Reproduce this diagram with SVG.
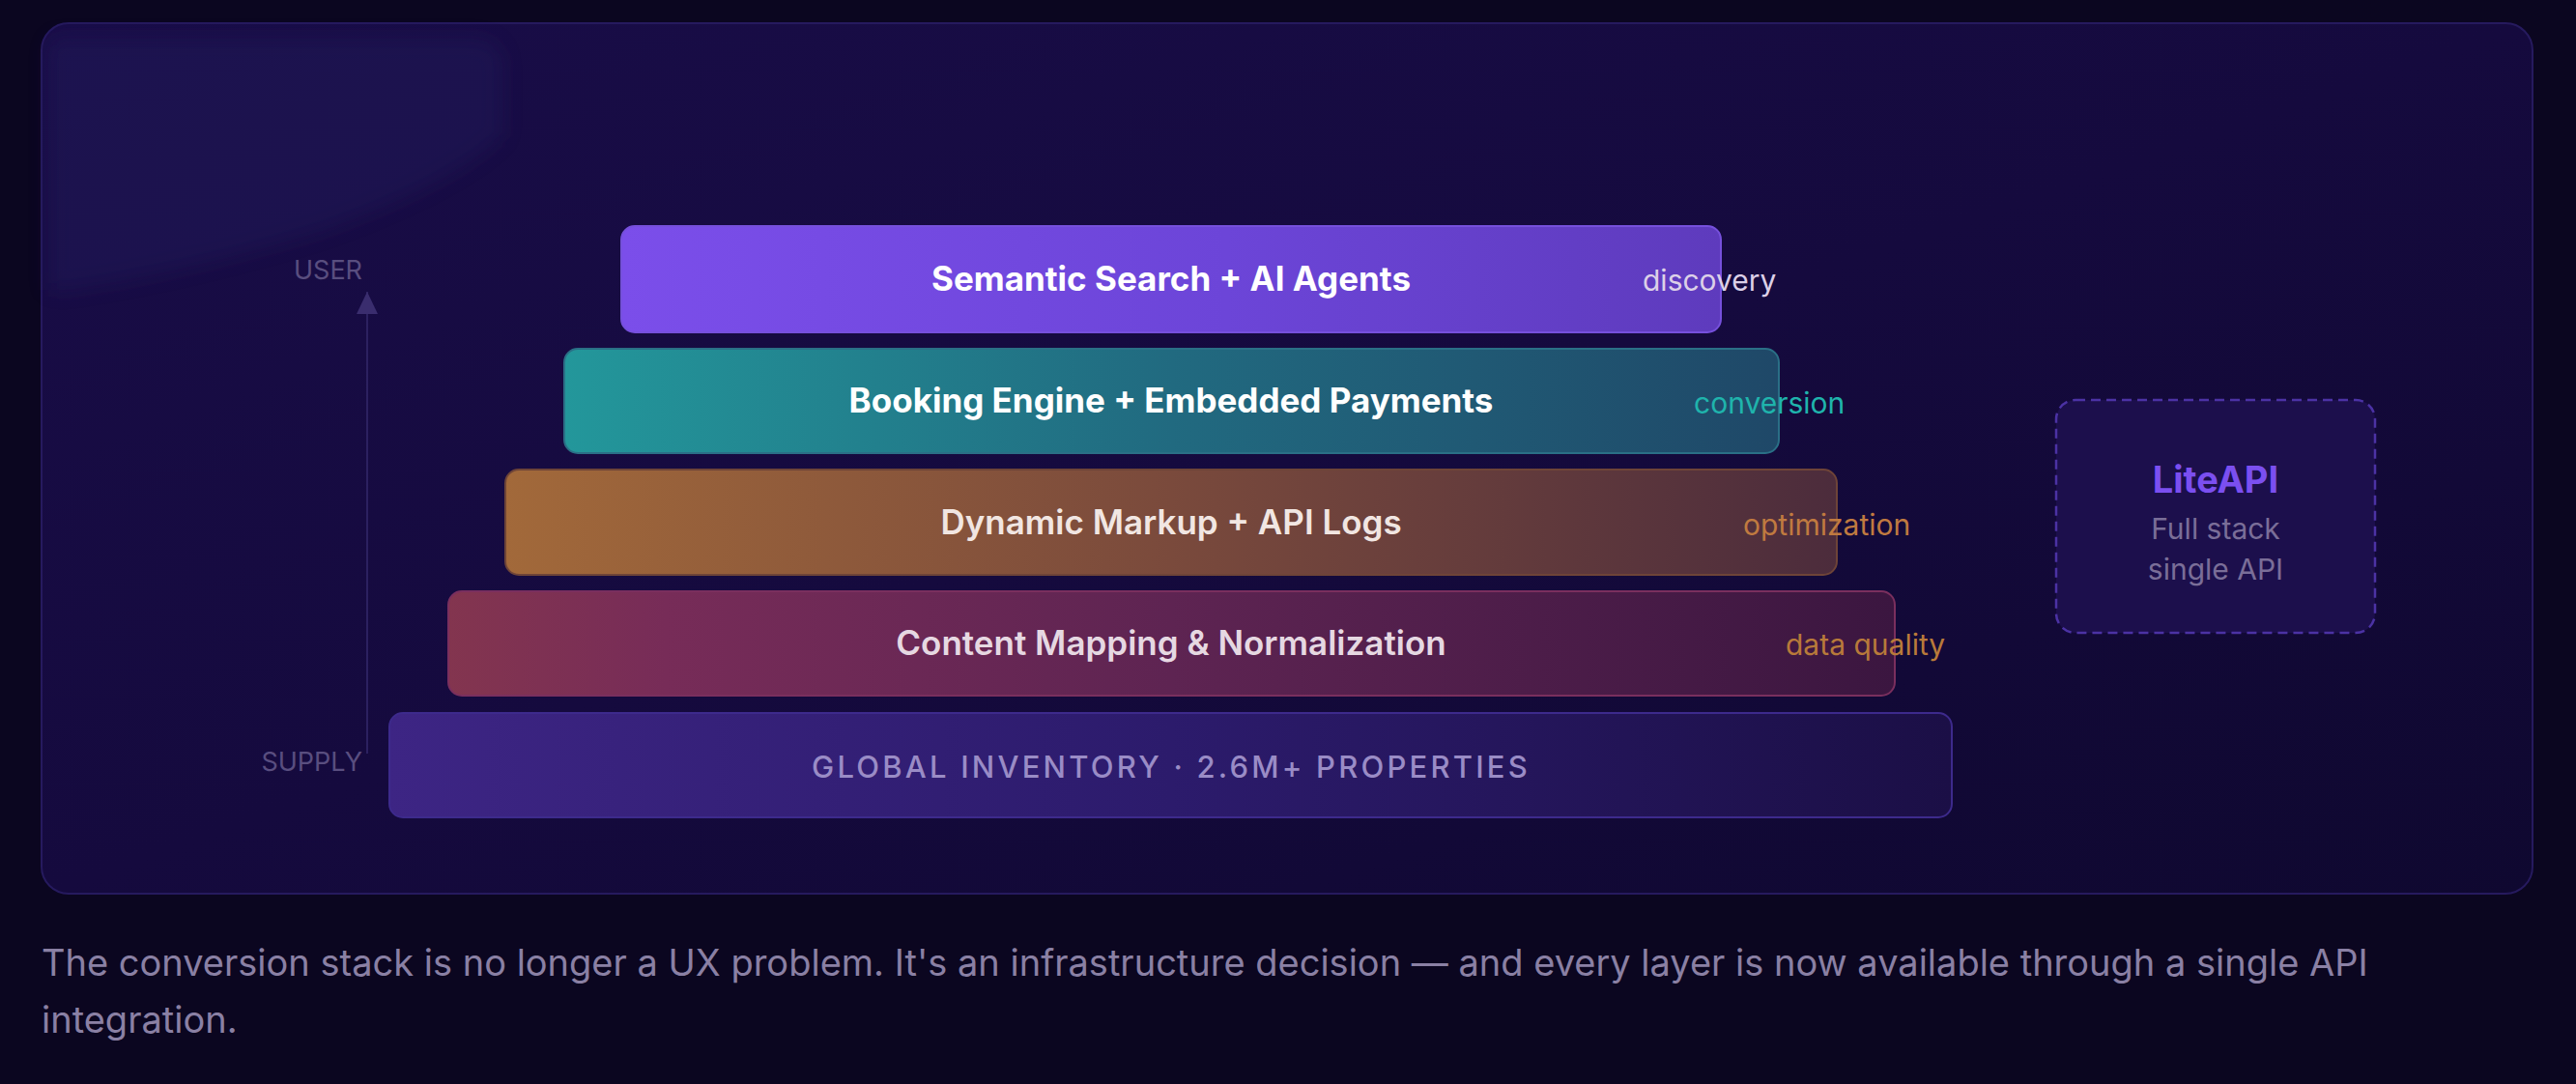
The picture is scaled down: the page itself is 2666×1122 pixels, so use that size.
<svg xmlns="http://www.w3.org/2000/svg" width="2666" height="1122" viewBox="0 0 2666 1122">
  <defs>
    <linearGradient id="panelG" x1="0" y1="0" x2="1" y2="1">
      <stop offset="0" stop-color="#190d48"/>
      <stop offset="0.5" stop-color="#150a3e"/>
      <stop offset="1" stop-color="#0f0830"/>
    </linearGradient>
    <filter id="blur" x="-20%" y="-20%" width="140%" height="140%">
      <feGaussianBlur stdDeviation="10"/>
    </filter>
    <linearGradient id="g1" x1="0" y1="0" x2="1" y2="0">
      <stop offset="0" stop-color="#7b4eea"/>
      <stop offset="0.55" stop-color="#6c45d8"/>
      <stop offset="1" stop-color="#5e3bbd"/>
    </linearGradient>
    <linearGradient id="g2" x1="0" y1="0" x2="1" y2="0">
      <stop offset="0" stop-color="#23979b"/>
      <stop offset="0.5" stop-color="#216a80"/>
      <stop offset="1" stop-color="#1f4868"/>
    </linearGradient>
    <linearGradient id="g3" x1="0" y1="0" x2="1" y2="0">
      <stop offset="0" stop-color="#a2693a"/>
      <stop offset="0.5" stop-color="#7a4a3c"/>
      <stop offset="1" stop-color="#4c2c3c"/>
    </linearGradient>
    <linearGradient id="g4" x1="0" y1="0" x2="1" y2="0">
      <stop offset="0" stop-color="#83354f"/>
      <stop offset="0.15" stop-color="#772c58"/>
      <stop offset="0.5" stop-color="#5e2452"/>
      <stop offset="1" stop-color="#3b1640"/>
    </linearGradient>
    <linearGradient id="g5" x1="0" y1="0" x2="1" y2="0">
      <stop offset="0" stop-color="#3d2584"/>
      <stop offset="0.5" stop-color="#2c1b6c"/>
      <stop offset="1" stop-color="#1b0f46"/>
    </linearGradient>
    <marker id="arrowUp" viewBox="0 0 23 22" refX="23" refY="11" markerWidth="23" markerHeight="22" markerUnits="userSpaceOnUse" orient="auto">
      <path d="M0,0 L23,11 L0,22 Z" fill="#3a2d6e"/>
    </marker>
    <style>
      .bar-text { font-family: Inter, "Liberation Sans", sans-serif; text-anchor: middle; font-size: 35px; }
      .inv-text { font-family: Inter, "Liberation Sans", sans-serif; text-anchor: middle; font-size: 31px; font-weight: 500; letter-spacing: 3.2px; fill: #9a8cc6; }
      .side { font-family: Inter, "Liberation Sans", sans-serif; font-size: 30px; }
      .axis-label { font-family: Inter, "Liberation Sans", sans-serif; font-size: 27px; fill: #594e7f; text-anchor: end; }
      .caption { font-family: Inter, "Liberation Sans", sans-serif; font-size: 38px; fill: #8a80a4; }
      .lite { font-family: Inter, "Liberation Sans", sans-serif; text-anchor: middle; }
    </style>
  </defs>

  <rect x="0" y="0" width="2666" height="1122" fill="#0b0620"/>

  <g id="panel">
    <rect x="43" y="24" width="2578" height="901" rx="28" fill="url(#panelG)" stroke="#261a5e" stroke-width="2"/>
    <path d="M60,40 L490,40 Q520,40 520,70 L520,140 Q470,190 330,240 Q200,280 70,300 L50,300 L50,60 Q50,40 60,40 Z" fill="#241a5c" opacity="0.4" filter="url(#blur)"/>
  </g>

  <g id="connectors">
    <line x1="380" y1="780" x2="380" y2="302" stroke="#2c2160" stroke-width="2" marker-end="url(#arrowUp)"/>
  </g>

  <g id="axis-labels">
    <text class="axis-label" x="375" y="289">USER</text>
    <text class="axis-label" x="375" y="798">SUPPLY</text>
  </g>

  <g id="layer-semantic">
    <rect x="643" y="234" width="1138" height="110" rx="14" fill="url(#g1)" stroke="#7650dc" stroke-width="2"/>
    <text class="bar-text" x="1212" y="301" font-weight="700" fill="#ffffff">Semantic Search + AI Agents</text>
    <text class="side" x="1700" y="301" fill="#dcd0e8">discovery</text>
  </g>

  <g id="layer-booking">
    <rect x="584" y="361" width="1257" height="108" rx="14" fill="url(#g2)" stroke="#2a6f86" stroke-width="2"/>
    <text class="bar-text" x="1212" y="427" font-weight="700" fill="#ffffff">Booking Engine + Embedded Payments</text>
    <text class="side" x="1753" y="428" fill="#1fb4ac">conversion</text>
  </g>

  <g id="layer-markup">
    <rect x="523" y="486" width="1378" height="109" rx="14" fill="url(#g3)" stroke="#6e4438" stroke-width="2"/>
    <text class="bar-text" x="1212" y="553" font-weight="600" fill="#f1e6e2">Dynamic Markup + API Logs</text>
    <text class="side" x="1804" y="554" fill="#c07a40">optimization</text>
  </g>

  <g id="layer-content">
    <rect x="464" y="612" width="1497" height="108" rx="14" fill="url(#g4)" stroke="#7a2f5e" stroke-width="2"/>
    <text class="bar-text" x="1212" y="678" font-weight="600" fill="#e6d8e2">Content Mapping &amp; Normalization</text>
    <text class="side" x="1848" y="678" fill="#b87a3a">data quality</text>
  </g>

  <g id="layer-inventory">
    <rect x="403" y="738" width="1617" height="108" rx="14" fill="url(#g5)" stroke="#3d2a8c" stroke-width="2"/>
    <text class="inv-text" x="1212" y="805">GLOBAL INVENTORY · 2.6M+ PROPERTIES</text>
  </g>

  <g id="liteapi">
    <rect x="2128" y="414" width="330" height="241" rx="20" fill="#1c0f4c" stroke="#4b32a4" stroke-width="2.5" stroke-dasharray="10 6"/>
    <text class="lite" x="2293" y="510" font-size="38" font-weight="700" fill="#7b4ff0">LiteAPI</text>
    <text class="lite" x="2293" y="558" font-size="30" fill="#7a6e98">Full stack</text>
    <text class="lite" x="2293" y="600" font-size="30" fill="#7a6e98">single API</text>
  </g>

  <g id="caption">
    <text class="caption" x="43" y="1010">The conversion stack is no longer a UX problem. It's an infrastructure decision — and every layer is now available through a single API</text>
    <text class="caption" x="43" y="1069">integration.</text>
  </g>
</svg>
